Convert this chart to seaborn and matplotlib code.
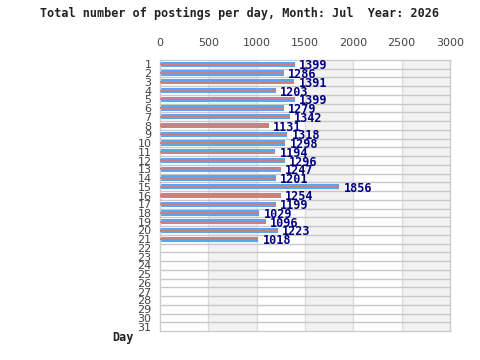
import matplotlib
matplotlib.use('Agg')
import matplotlib.pyplot as plt
import pandas as pd
import seaborn as sns

days = [str(d) for d in range(1, 32)]
posted_days = [str(d) for d in range(1, 22)]
postings = [1399, 1286, 1391, 1203, 1399, 1279, 1342, 1131, 1318, 1298,
            1194, 1296, 1247, 1201, 1856, 1254, 1199, 1029, 1096, 1223, 1018]
x_ticks = [0, 500, 1000, 1500, 2000, 2500, 3000]

df = pd.DataFrame({'day': posted_days, 'postings': postings})

sns.set_style('white')
plt.rcParams['font.family'] = ['DejaVu Sans']

fig = plt.figure(figsize=(4.8, 3.6), dpi=100)
ax = fig.add_axes([160 / 480, 1 - 331 / 360, 290 / 480, 271 / 360])

# alternating vertical bands
for i in range(len(x_ticks) - 1):
    if i % 2 == 1:
        ax.axvspan(x_ticks[i], x_ticks[i + 1], color='#f2f2f2', zorder=0, lw=0)
for x in x_ticks[1:-1]:
    ax.axvline(x, color='#dddddd', lw=1, zorder=0.5)
for i in range(len(days) - 1):
    ax.axhline(i + 0.5, color='#c8c8c8', lw=1, zorder=0.6)

sns.barplot(data=df, x='postings', y='day', order=days, orient='h',
            color='#5aa5f0', width=0.6, saturation=1, ax=ax,
            edgecolor='none', linewidth=0, zorder=2)
sns.barplot(data=df, x='postings', y='day', order=days, orient='h',
            color='#c98080', width=0.25, saturation=1, ax=ax,
            edgecolor='none', linewidth=0, zorder=3)

for i, v in enumerate(postings):
    ax.annotate(str(v), (v, i), xytext=(4, -1.5), textcoords='offset pixels',
                va='center', ha='left', fontsize=8.5, fontweight='bold',
                family='DejaVu Sans Mono', color='#000080', zorder=4)

ax.set_xlim(0, 3000)
ax.set_ylim(len(days) - 0.5, -0.5)
ax.set_xticks(x_ticks)
ax.xaxis.tick_top()
ax.tick_params(axis='x', length=0, pad=9, labelsize=8, labelcolor='#444444')
ax.tick_params(axis='y', length=0, pad=6, labelsize=8, labelcolor='#444444')
ax.set_xlabel('')
ax.set_ylabel('')
for s in ax.spines.values():
    s.set_color('#cccccc')
    s.set_linewidth(1)

fig.text(240 / 480, 1 - 13 / 360, 'Total number of postings per day, Month: Jul  Year: 2026',
         ha='center', va='center', fontsize=8.5, fontweight='bold',
         family='DejaVu Sans Mono', color='#222222')
fig.text(123 / 480, 1 - 338 / 360, 'Day', ha='center', va='center', fontsize=8.5,
         fontweight='bold', family='DejaVu Sans Mono', color='#222222')

fig.savefig('out.png', dpi=100)
